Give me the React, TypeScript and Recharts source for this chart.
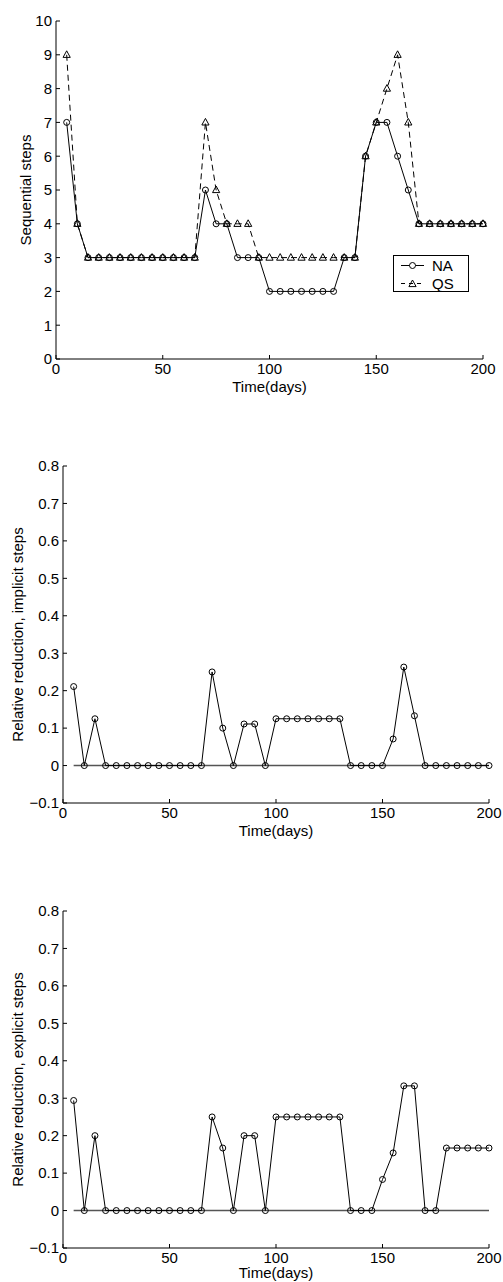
import React from "react";
import { LineChart, Line, XAxis, YAxis, ReferenceLine, Legend } from "recharts";

const days = [5, 10, 15, 20, 25, 30, 35, 40, 45, 50, 55, 60, 65, 70, 75, 80, 85, 90, 95, 100,
  105, 110, 115, 120, 125, 130, 135, 140, 145, 150, 155, 160, 165, 170, 175, 180, 185, 190, 195, 200];

const naSteps = [7, 4, 3, 3, 3, 3, 3, 3, 3, 3, 3, 3, 3, 5, 4, 4, 3, 3, 3, 2,
  2, 2, 2, 2, 2, 2, 3, 3, 6, 7, 7, 6, 5, 4, 4, 4, 4, 4, 4, 4];
const qsSteps = [9, 4, 3, 3, 3, 3, 3, 3, 3, 3, 3, 3, 3, 7, 5, 4, 4, 4, 3, 3,
  3, 3, 3, 3, 3, 3, 3, 3, 6, 7, 8, 9, 7, 4, 4, 4, 4, 4, 4, 4];

const implicitReduction = [0.211, 0, 0.125, 0, 0, 0, 0, 0, 0, 0, 0, 0, 0, 0.25, 0.1, 0, 0.111, 0.111, 0, 0.125,
  0.125, 0.125, 0.125, 0.125, 0.125, 0.125, 0, 0, 0, 0, 0.071, 0.263, 0.133, 0, 0, 0, 0, 0, 0, 0];
const explicitReduction = [0.294, 0, 0.2, 0, 0, 0, 0, 0, 0, 0, 0, 0, 0, 0.25, 0.167, 0, 0.2, 0.2, 0, 0.25,
  0.25, 0.25, 0.25, 0.25, 0.25, 0.25, 0, 0, 0, 0.083, 0.154, 0.333, 0.333, 0, 0, 0.167, 0.167, 0.167, 0.167, 0.167];

const dayTicks = [0, 50, 100, 150, 200];
const stepTicks = [0, 1, 2, 3, 4, 5, 6, 7, 8, 9, 10];
const reductionTicks = [-0.1, 0, 0.1, 0.2, 0.3, 0.4, 0.5, 0.6, 0.7, 0.8];

const FONT = '"Liberation Sans", Arial, Helvetica, sans-serif';

const stepData = days.map((day, i) => ({ day, na: naSteps[i], qs: qsSteps[i] }));
const implicitData = days.map((day, i) => ({ day, value: implicitReduction[i] }));
const explicitData = days.map((day, i) => ({ day, value: explicitReduction[i] }));

const tickStyle = { fill: "#000", fontSize: 15, fontFamily: FONT };
const circleDot = { r: 3, fill: "none", stroke: "#000", strokeWidth: 1 };

const fmtReduction = (v: number) => (v === 0 ? "0" : v < 0 ? "\u2212" + Math.abs(v).toFixed(1) : v.toFixed(1));

function Triangle({ cx, cy }: { cx?: number; cy?: number }) {
  if (cx == null || cy == null) return null;
  return (
    <path
      d={`M${cx},${cy - 4}L${cx - 3.6},${cy + 2.6}L${cx + 3.6},${cy + 2.6}Z`}
      fill="none"
      stroke="#000"
      strokeWidth={1}
    />
  );
}

function XTitle(props: any) {
  const vb = props.viewBox || {};
  return (
    <text x={vb.x + vb.width / 2} y={vb.y + (props.dy ?? 33)} textAnchor="middle" fill="#000" fontSize={15} fontFamily={FONT}>
      {props.text}
    </text>
  );
}

function YTitle(props: any) {
  const vb = props.viewBox || {};
  const cy = vb.y + vb.height / 2;
  const cx = props.cx;
  return (
    <text
      x={cx}
      y={cy}
      transform={`rotate(-90 ${cx} ${cy})`}
      textAnchor="middle"
      dominantBaseline="central"
      fill="#000"
      fontSize={15}
      fontFamily={FONT}
    >
      {props.text}
    </text>
  );
}

function StepsLegend(props: any) {
  const payload = props.payload || [];
  return (
    <div style={{ width: 74, height: 35, border: "1px solid #000", background: "#fff", position: "relative", fontFamily: FONT, fontSize: 15, color: "#000" }}>
      {payload.map((entry: any, i: number) => (
        <div key={entry.value} style={{ position: "absolute", left: 0, top: i === 0 ? 1 : 19, height: 17, display: "flex", alignItems: "center" }}>
          <svg width={34} height={17} style={{ display: "block" }}>
            <line x1={7} x2={30} y1={8.5} y2={8.5} stroke="#000" strokeWidth={1} strokeDasharray={i === 1 ? "4 4" : undefined} />
            {i === 0 ? <circle cx={18.5} cy={8.5} r={3} fill="#fff" stroke="#000" /> : <Triangle cx={18.5} cy={9} />}
          </svg>
          <span style={{ marginLeft: 4, lineHeight: "17px" }}>{entry.value}</span>
        </div>
      ))}
    </div>
  );
}

const axisCommon = {
  stroke: "#000",
  tickLine: { stroke: "#000" },
  axisLine: { stroke: "#000" },
  tickSize: -4,
  tickMargin: 8,
  interval: 0 as const,
  tick: tickStyle,
};

function ReductionChart({ data, top, height, title, titleDy }: { data: any[]; top: number; height: number; title: string; titleDy: number }) {
  return (
    <div style={{ position: "absolute", left: 0, top, width: 503, height }}>
      <LineChart width={503} height={height} data={data} margin={{ top: 26, right: 14, bottom: 0, left: 0 }}>
        <XAxis
          {...axisCommon}
          type="number"
          dataKey="day"
          domain={[0, 200]}
          ticks={dayTicks}
          height={height - 26 - 337}
          label={<XTitle text="Time(days)" dy={titleDy} />}
        />
        <YAxis
          {...axisCommon}
          type="number"
          domain={[-0.1, 0.8]}
          ticks={reductionTicks}
          width={63}
          tickFormatter={fmtReduction}
          label={<YTitle text={title} cx={17} />}
        />
        <ReferenceLine
          segment={[{ x: days[0], y: 0 }, { x: days[days.length - 1], y: 0 }]}
          stroke="#555"
          strokeWidth={1.5}
        />
        <Line dataKey="value" stroke="#000" strokeWidth={1} dot={circleDot} isAnimationActive={false} />
      </LineChart>
    </div>
  );
}

export default function App() {
  return (
    <div style={{ position: "absolute", left: 0, top: 0, width: 503, height: 1282, background: "#fff" }}>
      <div style={{ position: "absolute", left: 0, top: 0, width: 503, height: 400 }}>
        <LineChart width={503} height={400} data={stepData} margin={{ top: 21, right: 20, bottom: 0, left: 0 }}>
          <XAxis
            {...axisCommon}
            type="number"
            dataKey="day"
            domain={[0, 200]}
            ticks={dayTicks}
            height={41}
            label={<XTitle text="Time(days)" />}
          />
          <YAxis
            {...axisCommon}
            type="number"
            domain={[0, 10]}
            ticks={stepTicks}
            width={56}
            label={<YTitle text="Sequential steps" cx={25} />}
          />
          <Legend
            layout="vertical"
            align="center"
            verticalAlign="middle"
            content={<StepsLegend />}
            wrapperStyle={{ left: 393, top: 255, width: 76, height: 37 }}
          />
          <Line name="NA" dataKey="na" stroke="#000" strokeWidth={1} dot={circleDot} isAnimationActive={false} />
          <Line
            name="QS"
            dataKey="qs"
            stroke="#000"
            strokeWidth={1}
            strokeDasharray="6 4"
            dot={(p: any) => <Triangle key={p.index} cx={p.cx} cy={p.cy} />}
            isAnimationActive={false}
          />
        </LineChart>
      </div>
      <ReductionChart data={implicitData} top={440} height={400} title="Relative reduction, implicit steps" titleDy={33} />
      <ReductionChart data={explicitData} top={885} height={397} title="Relative reduction, explicit steps" titleDy={30} />
    </div>
  );
}
